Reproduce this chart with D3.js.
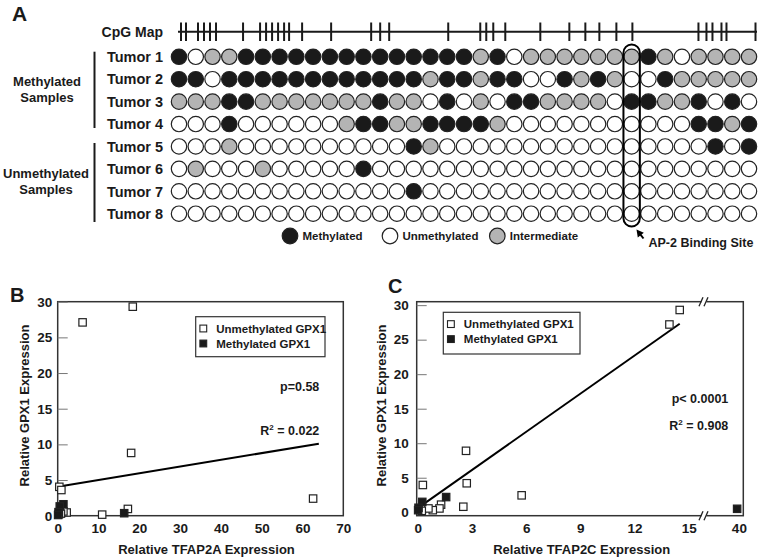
<!DOCTYPE html>
<html><head><meta charset="utf-8">
<script src="https://cdn.jsdelivr.net/npm/d3@7"></script>
<style>
body{margin:0;background:#fff}
svg{display:block}
text{font-family:"Liberation Sans",Arial,Helvetica,sans-serif;font-weight:bold;fill:#1a1a1a}
</style>
</head><body>
<svg id="c" width="762" height="560"></svg>
<script>
// ---------- Panel A data ----------
const tumors = ["Tumor 1","Tumor 2","Tumor 3","Tumor 4","Tumor 5","Tumor 6","Tumor 7","Tumor 8"];
// CpG positions along the promoter fragment (relative bp units)
const cpgPositions = [1,6,18,24,30,36,63,80,86,92,98,104,109,122,151,191,200,209,268,300,306,313,325,360,389,405,419,436,452,518,526,532,541,546,575];
// M = methylated, U = unmethylated, I = intermediate (35 CpG sites each)
const tumor1 = "MUIIMMMMMMMMMMMMMMIMUIIIIIIIMIUIIII";
const tumor2 = "MMUMMMMMMMMMMMMIMMIMMUUMIMIUUMIIIII";
const tumor3 = "IIIMMIIIIIIIMIIUMUIUMMIIIIUMMIIMUMU";
const tumor4 = "UUUMUUUUUUIMMIIMMMMIUUUUUUUUUUUMMIM";
const tumor5 = "UUUIUUUUUUUUUUMIUUUUUUUUUUUUUUUUMUM";
const tumor6 = "UIUUUIUUUUUMUUUUUUUUUUUUUUUUUUUUUUU";
const tumor7 = "UUUUUUUUUUUUUUMUUUUUUUUUUUUUUUUUUUU";
const tumor8 = "UUUUUUUUUUUUUUUUUUUUUUUUUUUUUUUUUUU";
const methylationRows = [tumor1,tumor2,tumor3,tumor4,tumor5,tumor6,tumor7,tumor8];
const statusLabels = ["Methylated","Unmethylated","Intermediate"];
const statusCodes = ["M","U","I"];
const ap2SiteIndex = 27;

// ---------- Panel B / C data ----------
const unmethB = [[6.1,27.1],[18.4,29.3],[18.0,8.8],[0.4,4.05],[0.9,3.6],[62.6,2.4],[17.2,0.95],[10.9,0.15],[2.2,0.45],[1.4,0.6],[0.8,0.3],[0.3,0.2]];
const methB = [[16.3,0.35],[1.4,1.6],[0.5,1.3],[0.2,0.5],[0.1,0.1]];
const fitB = [[0,4.05],[64,10.1]];
const xTicksB = [0,10,20,30,40,50,60,70];
const unmethC = [[13.93,27.2],[14.5,29.3],[2.67,8.9],[2.71,4.2],[0.28,3.95],[5.75,2.45],[2.52,0.8],[1.29,1.1],[1.2,0.55],[0.83,0.3],[0.59,0.55],[0.22,0.2]];
const methC = [[39.8,0.5],[1.57,2.2],[0.25,1.5],[0.04,0.65],[0.02,0.3]];
const fitC = [[0,0.6],[14.5,27.3]];
const xTicksC = [0,3,6,9,12,15,40];
const yTicks = [0,5,10,15,20,25,30];
const legendLabels = ["Unmethylated GPX1","Methylated GPX1"];
const statsB = ["p=0.58","0.022"];
const statsC = ["p< 0.0001","0.908"];

const svg = d3.select("#c");
const INK = "#1a1a1a";
const GRAY = "#b4b4b4";
const fillFor = {M: INK, U: "#fff", I: GRAY};

// ================= Panel A =================
const gA = svg.append("g");
gA.append("text").attr("x",12).attr("y",21).style("font-size","21px").text("A");

const xCol = d3.scalePoint().domain(d3.range(35)).range([179,749]);
const yRow = d3.scalePoint().domain(tumors).range([56.8,213.7]);
const xCpg = d3.scaleLinear().domain([0,575]).range([180,755.5]);
const mapY = 31.7;

// CpG map
gA.append("text").attr("x",163).attr("y",mapY).attr("dy","0.35em").attr("text-anchor","end")
  .style("font-size","14px").text("CpG Map");
gA.append("line").attr("x1",178).attr("x2",757).attr("y1",mapY).attr("y2",mapY)
  .attr("stroke",INK).attr("stroke-width",2);
gA.selectAll("line.cpg").data(cpgPositions).join("line").attr("class","cpg")
  .attr("x1",d=>xCpg(d)).attr("x2",d=>xCpg(d)).attr("y1",22.5).attr("y2",41)
  .attr("stroke",INK).attr("stroke-width",2);

// tumor labels
gA.selectAll("text.tum").data(tumors).join("text").attr("class","tum")
  .attr("x",163).attr("y",d=>yRow(d)).attr("dy","0.36em").attr("text-anchor","end")
  .style("font-size","14.5px").text(d=>d);

// group bars & labels
const grp = [
  {lines:["Methylated","Samples"], y1:51.7, y2:128, cx:47, ty:[81,97]},
  {lines:["Unmethylated","Samples"], y1:143, y2:222, cx:46, ty:[173,189]}
];
grp.forEach(g=>{
  gA.append("line").attr("x1",94.5).attr("x2",94.5).attr("y1",g.y1).attr("y2",g.y2)
    .attr("stroke",INK).attr("stroke-width",2);
  g.lines.forEach((t,i)=>gA.append("text").attr("x",g.cx).attr("y",g.ty[i]).attr("dy","0.36em")
    .attr("text-anchor","middle").style("font-size","13px").text(t));
});

// circles
methylationRows.forEach((row,ri)=>{
  gA.append("g").selectAll("circle").data(row.split("")).join("circle")
    .attr("cx",(d,i)=>xCol(i)).attr("cy",yRow(tumors[ri])).attr("r",7.7)
    .attr("fill",d=>fillFor[d]).attr("stroke","#222").attr("stroke-width",1.2);
});

// AP-2 box
gA.append("rect").attr("x",xCol(ap2SiteIndex)-8.2).attr("y",44.5).attr("width",16.4).attr("height",182)
  .attr("rx",8.2).attr("ry",8.2).attr("fill","none").attr("stroke","#000").attr("stroke-width",2);
// arrow
(function(){
  const hx=636.5, hy=229.5, tx=643.5, ty=238.5;
  const ang=Math.atan2(hy-ty,hx-tx), L=8, w=0.5;
  gA.append("line").attr("x1",tx).attr("y1",ty).attr("x2",hx-Math.cos(ang)*4).attr("y2",hy-Math.sin(ang)*4)
    .attr("stroke","#000").attr("stroke-width",2);
  const p1=[hx-L*Math.cos(ang-w), hy-L*Math.sin(ang-w)], p2=[hx-L*Math.cos(ang+w), hy-L*Math.sin(ang+w)];
  gA.append("path").attr("d",`M${hx},${hy}L${p1}L${p2}Z`).attr("fill","#000");
})();
gA.append("text").attr("x",648.5).attr("y",242).attr("dy","0.36em").style("font-size","12.5px").text("AP-2 Binding Site");

// legend A
const legAx = [290,390,497.3];
statusLabels.forEach((s,i)=>{
  gA.append("circle").attr("cx",legAx[i]).attr("cy",236).attr("r",7.8)
    .attr("fill",fillFor[statusCodes[i]]).attr("stroke","#222").attr("stroke-width",1.2);
  gA.append("text").attr("x",legAx[i]+12.5).attr("y",236).attr("dy","0.36em").style("font-size","11.5px").text(s);
});

// ================= Scatter panels =================
function panel(opt){
  const g = svg.append("g");
  const {x,y,box} = opt;
  g.append("text").attr("x",opt.labelX).attr("y",opt.labelY).style("font-size","20px").text(opt.label);
  // box
  g.append("rect").attr("x",box[0]).attr("y",box[1]).attr("width",box[2]-box[0]).attr("height",box[3]-box[1])
    .attr("fill","none").attr("stroke","#333").attr("stroke-width",1.5);
  // y axis
  const ya = g.append("g").attr("transform",`translate(${box[0]},0)`)
    .call(d3.axisLeft(y).tickValues(yTicks).tickSize(-10).tickPadding(opt.yPad));
  ya.select(".domain").remove();
  ya.selectAll(".tick line").attr("stroke","#777").attr("stroke-width",1);
  ya.selectAll("text").style("font-size","13.5px").attr("fill",INK).style("font-family",null);
  // x axis
  const xa = g.append("g").attr("transform",`translate(0,${box[3]})`)
    .call(d3.axisBottom(x).tickValues(opt.xTicks).tickSize(0).tickPadding(7.5));
  xa.select(".domain").remove();
  xa.selectAll("text").style("font-size","13.5px").attr("fill",INK).style("font-family",null);
  // titles
  g.append("text").attr("x",opt.xTitleX).attr("y",549).attr("dy","0.36em").attr("text-anchor","middle")
    .style("font-size","13px").text(opt.xTitle);
  g.append("text").attr("transform",`translate(${opt.yTitleX},405.5) rotate(-90)`).attr("dy","0.36em")
    .attr("text-anchor","middle").style("font-size","13px").text("Relative GPX1 Expression");
  // fit line
  g.append("path").attr("d",d3.line().x(d=>x(d[0])).y(d=>y(d[1]))(opt.fit))
    .attr("stroke","#000").attr("stroke-width",2).attr("fill","none");
  // points
  const s=7.4;
  g.selectAll("rect.u").data(opt.unmeth).join("rect").attr("class","u")
    .attr("x",d=>x(d[0])-s/2).attr("y",d=>y(d[1])-s/2).attr("width",s).attr("height",s)
    .attr("fill","#fff").attr("stroke","#222").attr("stroke-width",1.2);
  g.selectAll("rect.m").data(opt.meth).join("rect").attr("class","m")
    .attr("x",d=>x(d[0])-s/2).attr("y",d=>y(d[1])-s/2).attr("width",s).attr("height",s)
    .attr("fill",INK).attr("stroke","#222").attr("stroke-width",1.2);
  // legend
  const L = opt.legend;
  g.append("rect").attr("x",L[0]).attr("y",L[1]).attr("width",L[2]-L[0]).attr("height",L[3]-L[1])
    .attr("fill","#fff").attr("stroke","#333").attr("stroke-width",1.2);
  legendLabels.forEach((t,i)=>{
    const cy = L[1]+11.8+i*15;
    g.append("rect").attr("x",L[0]+7.6-3.4).attr("y",cy-3.4).attr("width",6.8).attr("height",6.8)
      .attr("fill",i?INK:"#fff").attr("stroke","#222").attr("stroke-width",1.1);
    g.append("text").attr("x",L[0]+20.5).attr("y",cy).attr("dy","0.36em").style("font-size","11.5px").text(t);
  });
  // stats
  g.append("text").attr("x",opt.statX).attr("y",opt.statY[0]).attr("dy","0.36em").attr("text-anchor","end")
    .style("font-size","12.5px").text(opt.stats[0]);
  const r2 = g.append("text").attr("x",opt.statX).attr("y",opt.statY[1]).attr("dy","0.36em").attr("text-anchor","end")
    .style("font-size","12.5px");
  r2.append("tspan").text("R");
  r2.append("tspan").attr("dy","-5").style("font-size","8px").text("2");
  r2.append("tspan").attr("dy","5").text(" = "+opt.stats[1]);
  return g;
}

// Panel B
const boxB=[57.7,301.7,343.3,515.7];
const xB = d3.scaleLinear().domain([0,70]).range([boxB[0],boxB[2]]);
const yB = d3.scaleLinear().domain([0,30]).range([boxB[3],boxB[1]]);
panel({label:"B",labelX:10,labelY:302,x:xB,y:yB,box:boxB,yPad:5.5,xTicks:xTicksB,xTitle:"Relative TFAP2A Expression",
  xTitleX:(boxB[0]+boxB[2])/2+6,yTitleX:24,fit:fitB,unmeth:unmethB,meth:methB,
  legend:[195.7,316.7,325,356.7],stats:statsB,statX:319.3,statY:[386,430]});

// Panel C (broken x axis)
const boxC=[416.7,301.7,743.3,515.7];
const xC = d3.scaleLinear().domain([-0.06,15.9,36.5,40.5]).range([boxC[0],705,708,boxC[2]]);
const yC = d3.scaleLinear().domain([-0.5,30.5]).range([boxC[3],boxC[1]]);
const gC = panel({label:"C",labelX:388,labelY:293,x:xC,y:yC,box:boxC,yPad:8,xTicks:xTicksC,xTitle:"Relative TFAP2C Expression",
  xTitleX:581.7,yTitleX:381,fit:fitC,unmeth:unmethC,meth:methC,
  legend:[443.3,312.3,580,354],stats:statsC,statX:728.3,statY:[398.3,425]});
// axis break marks
[boxC[1],boxC[3]].forEach(yy=>{
  gC.append("rect").attr("x",701.5).attr("y",yy-2).attr("width",5).attr("height",4).attr("fill","#fff");
  [0,5].forEach(o=>gC.append("line").attr("x1",699+o).attr("y1",yy+4.5).attr("x2",703+o).attr("y2",yy-4.5)
    .attr("stroke","#222").attr("stroke-width",1.3));
});
</script>
</body></html>
